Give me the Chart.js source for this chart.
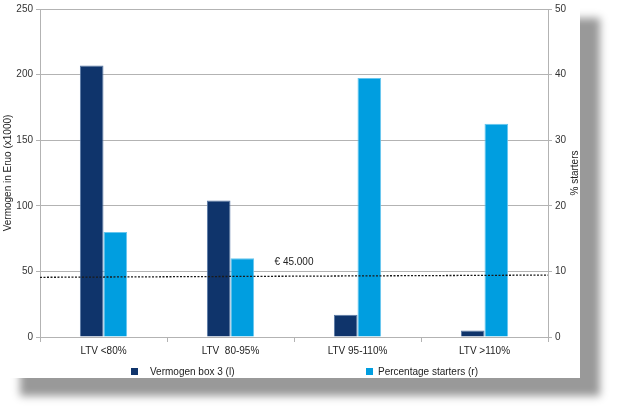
<!DOCTYPE html>
<html>
<head>
<meta charset="utf-8">
<script src="https://cdn.jsdelivr.net/npm/chart.js@4.4.1/dist/chart.umd.min.js"></script>
<style>
  body { margin: 0; background: #fff; }
  #wrap {
    position: absolute; left: 0; top: 0;
    width: 580px; height: 378px; background: #fff;
    box-shadow: 20px 18px 8px #999;
  }
</style>
</head>
<body>
<div id="wrap"><canvas id="myChart" width="580" height="378"></canvas></div>
<script>
// data
const categories = ['LTV <80%', 'LTV  80-95%', 'LTV 95-110%', 'LTV >110%'];
const vermogen = [207, 104, 17, 5];          // x1000 euro, left axis
const starters = [16, 12, 39.5, 32.5];       // %, right axis
const drempel = [45.5, 47.2];                // the € 45.000 line (left axis), start and end
const leftTicks = [0, 50, 100, 150, 200, 250];
const rightTicks = [0, 10, 20, 30, 40, 50];

const fontFam = "'Liberation Sans', Arial, sans-serif";

// dotted threshold line over the bars, with its label
const drempelLijn = {
  id: 'drempelLijn',
  afterDatasetsDraw(chart) {
    const ctx = chart.ctx;
    const y = chart.scales.y;
    const x = chart.scales.x;
    const area = chart.chartArea;
    ctx.save();
    ctx.strokeStyle = '#1a1a1a';
    ctx.lineWidth = 1.3;
    ctx.setLineDash([2, 1.5]);
    ctx.beginPath();
    ctx.moveTo(area.left, y.getPixelForValue(drempel[0]));
    ctx.lineTo(area.right, y.getPixelForValue(drempel[1]));
    ctx.stroke();
    ctx.restore();

    ctx.save();
    ctx.fillStyle = '#222';
    ctx.font = '10px ' + fontFam;
    ctx.textAlign = 'center';
    ctx.textBaseline = 'middle';
    const bx = (x.getPixelForValue(1) + x.getPixelForValue(2)) / 2;
    ctx.fillText('€ 45.000', bx, y.getPixelForValue(drempel[0]) - 15);
    ctx.restore();
  },
};

// right axis title (bottom-to-top) and the spread-out legend
const extraText = {
  id: 'extraText',
  afterDraw(chart) {
    const ctx = chart.ctx;
    const area = chart.chartArea;
    ctx.save();
    ctx.fillStyle = '#222';
    ctx.font = '10px ' + fontFam;
    ctx.textAlign = 'center';
    ctx.textBaseline = 'middle';
    ctx.translate(575, (area.top + area.bottom) / 2);
    ctx.rotate(-Math.PI / 2);
    ctx.fillText('% starters', 0, 0);
    ctx.restore();

    const legendX = [area.left + 91, area.left + 326];
    ctx.save();
    ctx.font = '10px ' + fontFam;
    ctx.textAlign = 'left';
    ctx.textBaseline = 'middle';
    chart.data.datasets.forEach((ds, i) => {
      ctx.fillStyle = ds.backgroundColor;
      ctx.fillRect(legendX[i], 368, 7, 7);
      ctx.fillStyle = '#222';
      ctx.fillText(ds.label, legendX[i] + (i === 0 ? 19 : 12), 372);
    });
    ctx.restore();
  },
};

const ctx = document.getElementById('myChart');
const myChart = new Chart(ctx, {
  type: 'bar',
  data: {
    labels: categories,
    datasets: [
      {
        label: 'Vermogen box 3 (l)',
        data: vermogen,
        backgroundColor: '#0f346b',
        borderColor: '#5a7aa6',
        borderWidth: 1,
        yAxisID: 'y',
        barPercentage: 1,
        categoryPercentage: 0.372,
      },
      {
        label: 'Percentage starters (r)',
        data: starters,
        backgroundColor: '#009ee0',
        borderColor: '#66c6ee',
        borderWidth: 1,
        yAxisID: 'y1',
        barPercentage: 1,
        categoryPercentage: 0.372,
      },
    ],
  },
  options: {
    responsive: false,
    animation: false,
    layout: { padding: { top: 1, left: 0, right: 0, bottom: 19 } },
    scales: {
      x: {
        offset: true,
        grid: {
          offset: true,
          drawOnChartArea: false,
          drawTicks: true,
          tickLength: 5,
          color: '#b3b3b3',
        },
        border: { color: '#b3b3b3' },
        ticks: {
          color: '#222',
          font: { family: fontFam, size: 10 },
          padding: 3,
          maxRotation: 0,
        },
        afterFit(scale) { scale.height = 22; },
      },
      y: {
        position: 'left',
        min: 0,
        max: 250,
        afterBuildTicks(scale) { scale.ticks = leftTicks.map(v => ({ value: v })); },
        grid: { color: '#b3b3b3', tickLength: 4 },
        border: { color: '#b3b3b3' },
        ticks: {
          color: '#333',
          font: { family: fontFam, size: 10 },
          padding: 3,
        },
        title: {
          display: true,
          text: 'Vermogen in Eruo (x1000)',
          color: '#222',
          font: { family: fontFam, size: 10 },
          padding: { top: 2, bottom: 0 },
        },
        afterFit(scale) { scale.width = 40; },
      },
      y1: {
        position: 'right',
        min: 0,
        max: 50,
        afterBuildTicks(scale) { scale.ticks = rightTicks.map(v => ({ value: v })); },
        grid: { drawOnChartArea: false, color: '#b3b3b3', tickLength: 4 },
        border: { color: '#b3b3b3' },
        ticks: {
          color: '#333',
          font: { family: fontFam, size: 10 },
          padding: 3,
        },
        afterFit(scale) { scale.width = 32; },
      },
    },
    plugins: {
      legend: { display: false },
      tooltip: { enabled: false },
    },
  },
  plugins: [drempelLijn, extraText],
});
</script>
</body>
</html>
